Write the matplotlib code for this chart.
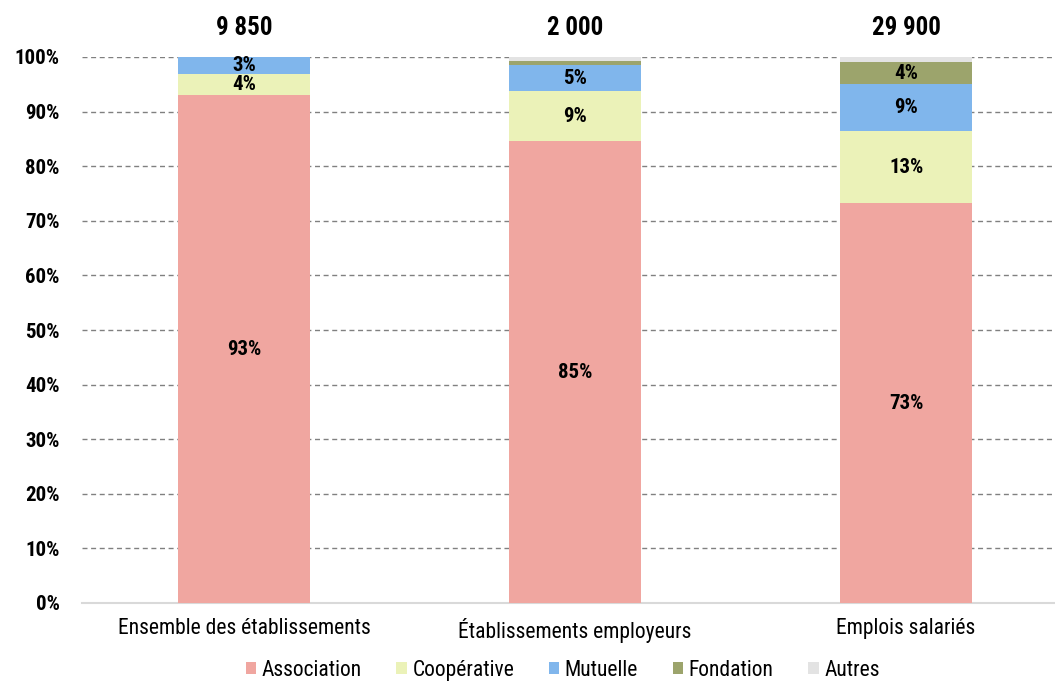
import matplotlib.pyplot as plt
import numpy as np

plt.rcParams['font.family'] = ['Roboto Condensed', 'DejaVu Sans']

categories = ['Ensemble des établissements', 'Établissements employeurs', 'Emplois salariés']
totals = ['9 850', '2 000', '29 900']
series = ['Association', 'Coopérative', 'Mutuelle', 'Fondation', 'Autres']
association = [93.0, 84.6, 73.2]
cooperative = [3.8, 9.1, 13.2]
mutuelle = [3.2, 4.9, 8.6]
fondation = [0.0, 0.7, 4.0]
autres = [0.0, 0.7, 1.0]
colors = ['#F0A6A0', '#EBF2B8', '#80B6EC', '#9CA46C', '#E3E3E3']

values = [association, cooperative, mutuelle, fondation, autres]

fig = plt.figure(figsize=(10.55, 6.82), dpi=100)
ax = fig.add_axes([82 / 1055, 1 - 603 / 682, 1 - 82 / 1055, (603 - 57) / 682])

x = np.arange(len(categories))
bottom = np.zeros(len(categories))
for name, vals, col in zip(series, values, colors):
    vals = np.array(vals)
    ax.bar(x, vals, 0.4, bottom=bottom, color=col, label=name, zorder=3)
    for xi, b, v in zip(x, bottom, vals):
        if v >= 3:
            ax.text(xi, b + v / 2, f'{round(v)}%', ha='center', va='center',
                    fontsize=15, fontweight='bold', zorder=4)
    bottom += vals

for xi, t in zip(x, totals):
    ax.text(xi, 105.3, t, ha='center', va='center', fontsize=18,
            fontweight='bold', clip_on=False)

ax.set_ylim(0, 100)
ax.set_xlim(-0.49, 2.45)
ax.set_yticks(np.arange(0, 101, 10))
ax.set_yticklabels([f'{v}%' for v in range(0, 101, 10)], fontsize=15, fontweight='bold')
ax.set_xticks(x)
ax.set_xticklabels(categories, fontsize=15.5)
ax.tick_params(axis='both', length=0)
ax.tick_params(axis='y', pad=16)
ax.tick_params(axis='x', pad=11)

for v in range(10, 101, 10):
    ax.axhline(v, color='#808080', linestyle=(0, (3.6, 2.6)), linewidth=1.0, zorder=1)

for s in ['top', 'right', 'left']:
    ax.spines[s].set_visible(False)
ax.spines['bottom'].set_color('#D9D9D9')
ax.spines['bottom'].set_linewidth(1.5)

ax.legend(loc='center', bbox_to_anchor=(0.494, -0.123), ncol=5, frameon=False,
          fontsize=15.5, handlelength=0.5, handleheight=0.5, handletextpad=0.25,
          columnspacing=1.6)

fig.savefig('out.png', dpi=100)
